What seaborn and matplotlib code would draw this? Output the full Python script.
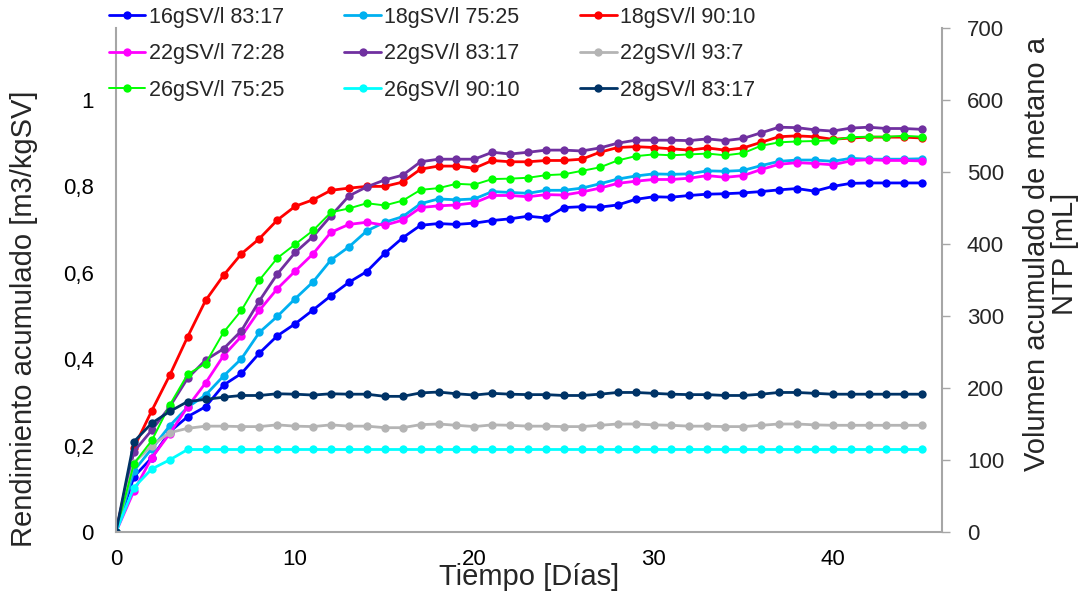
import pandas as pd
import seaborn as sns
import matplotlib.pyplot as plt
from matplotlib.ticker import FuncFormatter, MultipleLocator

dias = list(range(46))

series = [
    "16gSV/l 83:17", "18gSV/l 75:25", "18gSV/l 90:10",
    "22gSV/l 72:28", "22gSV/l 83:17", "22gSV/l 93:7",
    "26gSV/l 75:25", "26gSV/l 90:10", "28gSV/l 83:17",
]
colores = ["#0000FF", "#00B0F0", "#FF0000", "#FF00FF", "#7030A0",
           "#B4B4B4", "#00FF00", "#00FFFF", "#003366"]
grosor = [2.0, 2.0, 2.0, 2.0, 2.0, 2.0, 1.4, 2.0, 2.0]

s16_83 = [0, .128, .172, .232, .267, .290, .340, .367, .414, .454, .482, .514,
          .547, .578, .603, .645, .681, .710, .714, .712, .715, .721,
          .725, .731, .727, .751, .753, .752, .757, .770, .776, .775, .779,
          .782, .783, .785, .788, .792, .795, .789, .800, .807, .808, .808,
          .808, .808]
s18_75 = [0, .142, .193, .246, .289, .317, .361, .401, .462, .499, .540, .579,
          .630, .660, .697, .717, .730, .760, .771, .769, .771, .788,
          .786, .784, .791, .791, .796, .806, .817, .824, .829, .828, .829,
          .836, .835, .837, .848, .858, .861, .861, .858, .865, .863, .863,
          .863, .864]
s18_90 = [0, .195, .281, .363, .452, .536, .594, .644, .679, .722, .754, .769,
          .791, .796, .800, .800, .810, .840, .847, .847, .842, .860,
          .857, .857, .860, .860, .863, .879, .890, .892, .890, .887, .884,
          .889, .884, .889, .902, .915, .917, .915, .909, .912, .914, .914,
          .914, .912]
s22_72 = [0, .095, .172, .228, .290, .345, .408, .453, .513, .563, .604, .644,
          .694, .712, .717, .710, .722, .751, .755, .757, .762, .779,
          .779, .776, .781, .780, .787, .796, .807, .812, .816, .816, .819,
          .825, .821, .825, .839, .851, .855, .853, .850, .859, .862, .860,
          .860, .859]
s22_83 = [0, .186, .236, .290, .356, .398, .424, .466, .535, .597, .647, .684,
          .732, .778, .799, .815, .826, .857, .863, .863, .863, .879,
          .875, .879, .884, .884, .882, .889, .900, .907, .907, .907, .906,
          .910, .906, .911, .924, .937, .936, .931, .928, .935, .937, .934,
          .934, .932]
s22_93 = [0, .160, .200, .230, .240, .245, .245, .244, .244, .248, .245, .244,
          .248, .245, .245, .2415, .2415, .2485, .250, .247, .244, .248,
          .247, .245, .245, .244, .244, .247, .250, .250, .248, .247, .245,
          .245, .244, .244, .247, .250, .250, .248, .247, .247, .247, .247,
          .247, .247]
s26_75 = [0, .158, .212, .294, .365, .390, .462, .513, .583, .634, .666, .698,
          .740, .749, .761, .756, .767, .792, .796, .806, .804, .817,
          .818, .820, .826, .828, .836, .844, .860, .870, .874, .872, .874,
          .876, .872, .877, .894, .902, .904, .905, .907, .914, .915, .915,
          .917, .915]
s26_90 = [0, .103, .146, .167, .191, .191, .191, .191, .191, .191, .191, .191,
          .191, .191, .191, .191, .191, .191, .191, .191, .191, .191,
          .191, .191, .191, .191, .191, .191, .191, .191, .191, .191, .191,
          .191, .191, .191, .191, .191, .191, .191, .191, .191, .191, .191,
          .191, .191]
s28_83 = [0, .209, .252, .279, .302, .307, .312, .316, .316, .320, .319, .317,
          .320, .319, .319, .314, .314, .322, .324, .320, .317, .321,
          .319, .318, .318, .316, .316, .319, .323, .323, .321, .319, .318,
          .318, .316, .316, .319, .323, .323, .321, .319, .319, .319, .319,
          .319, .319]

valores = [s16_83, s18_75, s18_90, s22_72, s22_83, s22_93, s26_75, s26_90, s28_83]

sns.set_style("white")
plt.rcParams["font.family"] = ["Liberation Sans", "DejaVu Sans"]

fig = plt.figure(figsize=(10.92, 6), dpi=100)
ax = fig.add_axes([116 / 1092, 1 - 532 / 600, 826 / 1092, 504 / 600])

for nombre, vals, col, lw in zip(series, valores, colores, grosor):
    df = pd.DataFrame({"dia": dias, "y": vals})
    sns.lineplot(data=df, x="dia", y="y", ax=ax, color=col, linewidth=lw,
                 marker="o", markersize=6, markeredgewidth=0, label=nombre,
                 legend=False)

ax.set_xlim(0, 46.1)
ax.set_ylim(0, 700 / 600)
ax.xaxis.set_major_locator(MultipleLocator(10))
ax.set_yticks([0, 0.2, 0.4, 0.6, 0.8, 1.0])
ax.yaxis.set_major_formatter(FuncFormatter(
    lambda v, p: "0" if v == 0 else ("1" if abs(v - 1) < 1e-9 else f"{v:.1f}".replace(".", ","))))

for s in ["top", "right"]:
    ax.spines[s].set_visible(False)
for s in ["left", "bottom"]:
    ax.spines[s].set_color("#A6A6A6")
    ax.spines[s].set_linewidth(1.5)
ax.tick_params(axis="both", length=0, labelsize=16, colors="black")
ax.tick_params(axis="x", pad=12)
ax.tick_params(axis="y", pad=16)

ax.set_xlabel("Tiempo [Días]", fontsize=21)
ax.set_ylabel("Rendimiento acumulado [m3/kgSV]", fontsize=21)
ax.xaxis.set_label_coords(0.5, -0.062)
ax.yaxis.set_label_coords(-0.094, 0.4226)

ax2 = ax.twinx()
ax2.set_ylim(0, 700)
ax2.yaxis.set_major_locator(MultipleLocator(100))
for s in ["top", "left", "bottom"]:
    ax2.spines[s].set_visible(False)
ax2.spines["right"].set_color("#A6A6A6")
ax2.spines["right"].set_linewidth(1.5)
ax2.tick_params(axis="y", length=6, width=1, color="#A6A6A6", direction="out",
                labelsize=16, pad=12)
ax2.set_ylabel("Volumen acumulado de metano a\nNTP [mL]", fontsize=21,
               rotation=90, multialignment="center", linespacing=1.0)
ax2.yaxis.set_label_coords(1.098, 0.5516)

handles, labels = ax.get_legend_handles_labels()
orden = [0, 3, 6, 1, 4, 7, 2, 5, 8]
fig.legend([handles[i] for i in orden], [labels[i] for i in orden],
           loc="upper left", bbox_to_anchor=(98 / 1092, 1 + 4 / 600), ncol=3,
           frameon=False, fontsize=15.5, borderpad=0, handlelength=1.7,
           handletextpad=0.15, columnspacing=2.8, labelspacing=0.72)

fig.savefig("out.png", dpi=100)
